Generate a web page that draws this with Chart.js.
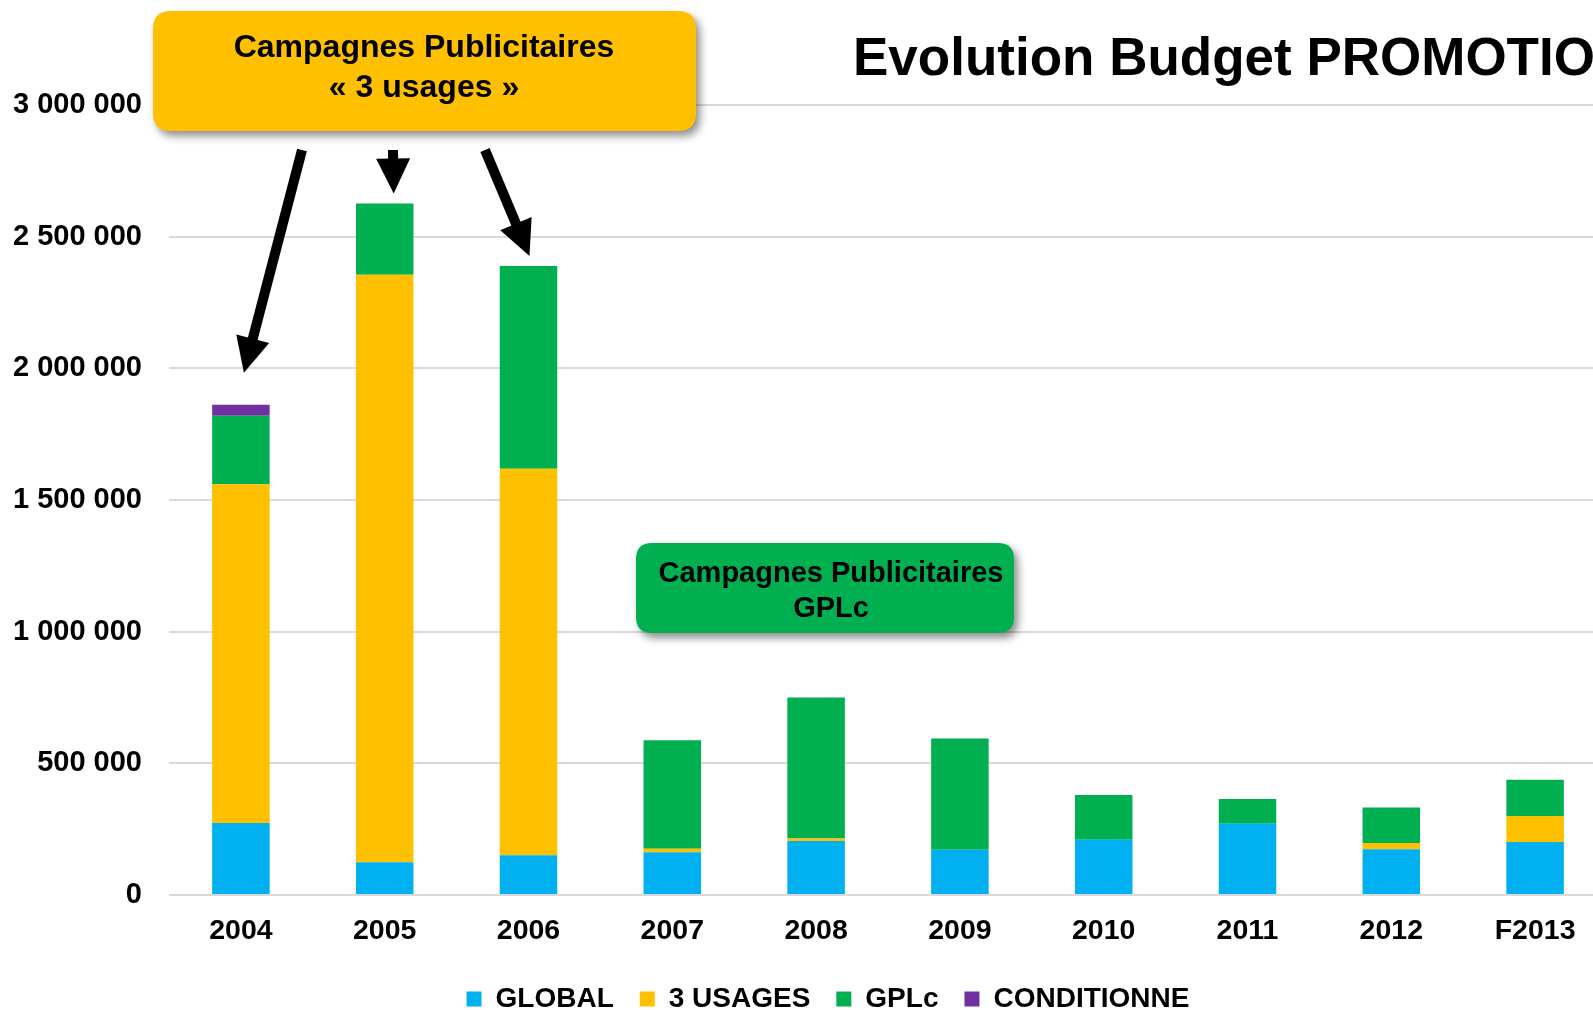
<!DOCTYPE html>
<html>
<head>
<meta charset="utf-8">
<script src="https://cdn.jsdelivr.net/npm/chart.js@4.4.0/dist/chart.umd.min.js"></script>
<style>
html, body { margin: 0; padding: 0; overflow: hidden; background: #fff; }
#wrap { position: relative; width: 1620px; height: 1023px; }
</style>
</head>
<body>
<div id="wrap"><canvas id="budget-chart"></canvas></div>
<script>
// categories and series
var years = ['2004', '2005', '2006', '2007', '2008', '2009', '2010', '2011', '2012', 'F2013'];
var global = [273000, 124000, 151000, 162000, 205000, 172000, 210000, 271000, 174000, 201000];
var usages3 = [1287000, 2231000, 1468000, 14000, 10000, 0, 0, 0, 23000, 99000];
var gplc = [260000, 271000, 770000, 412000, 535000, 422000, 170000, 94000, 135000, 138000];
var conditionne = [42000, 0, 0, 0, 0, 0, 0, 0, 0, 0];

var yTicks = [0, 500000, 1000000, 1500000, 2000000, 2500000, 3000000];

var titleText = 'Evolution Budget PROMOTION';
var noteUsages = ['Campagnes Publicitaires', '« 3 usages »'];
var noteGplc = ['Campagnes Publicitaires', 'GPLc'];
// arrows from the yellow note to these bars
var arrowBars = [0, 1, 2];

var FONT = "'Liberation Sans', Arial, sans-serif";
Chart.defaults.font.family = FONT;

function spaced(v) {
    return String(v).replace(/\B(?=(\d{3})+(?!\d))/g, ' ');
}

function roundBox(ctx, x, y, w, h, r, color) {
    ctx.save();
    ctx.shadowColor = 'rgba(0,0,0,0.45)';
    ctx.shadowBlur = 8;
    ctx.shadowOffsetX = 4;
    ctx.shadowOffsetY = 5;
    ctx.fillStyle = color;
    ctx.beginPath();
    ctx.moveTo(x + r, y);
    ctx.lineTo(x + w - r, y);
    ctx.quadraticCurveTo(x + w, y, x + w, y + r);
    ctx.lineTo(x + w, y + h - r);
    ctx.quadraticCurveTo(x + w, y + h, x + w - r, y + h);
    ctx.lineTo(x + r, y + h);
    ctx.quadraticCurveTo(x, y + h, x, y + h - r);
    ctx.lineTo(x, y + r);
    ctx.quadraticCurveTo(x, y, x + r, y);
    ctx.closePath();
    ctx.fill();
    ctx.restore();
}

function arrow(ctx, x1, y1, x2, y2) {
    var ang = Math.atan2(y2 - y1, x2 - x1);
    var head = 35, half = 17;
    var bx = x2 - head * Math.cos(ang), by = y2 - head * Math.sin(ang);
    ctx.save();
    ctx.strokeStyle = '#000';
    ctx.fillStyle = '#000';
    ctx.lineWidth = 10;
    ctx.beginPath();
    ctx.moveTo(x1, y1);
    ctx.lineTo(bx + 2 * Math.cos(ang), by + 2 * Math.sin(ang));
    ctx.stroke();
    ctx.beginPath();
    ctx.moveTo(x2, y2);
    ctx.lineTo(bx + half * Math.sin(ang), by - half * Math.cos(ang));
    ctx.lineTo(bx - half * Math.sin(ang), by + half * Math.cos(ang));
    ctx.closePath();
    ctx.fill();
    ctx.restore();
}

function noteText(ctx, lines, x, y1, y2, size) {
    ctx.save();
    ctx.fillStyle = '#000';
    ctx.textAlign = 'center';
    ctx.textBaseline = 'alphabetic';
    ctx.font = 'bold ' + size + 'px ' + FONT;
    ctx.fillText(lines[0], x, y1);
    ctx.fillText(lines[1], x, y2);
    ctx.restore();
}

var decorations = {
    id: 'decorations',
    afterLayout: function(chart) {
        // centre the legend the way the original sits under the plot
        if (chart.legend) chart.legend.left = 49;
    },
    afterDraw: function(chart) {
        var ctx = chart.ctx;
        var xs = chart.scales.x, ys = chart.scales.y;

        // title, runs past the right edge like the original
        ctx.save();
        ctx.fillStyle = '#000';
        ctx.font = 'bold 53px ' + FONT;
        ctx.textAlign = 'left';
        ctx.textBaseline = 'alphabetic';
        ctx.fillText(titleText, 853, 75);
        ctx.restore();

        // yellow note + arrows
        roundBox(ctx, 153, 11, 543, 120, 18, '#FFC000');
        noteText(ctx, noteUsages, 424, 57, 97, 32);

        var starts = [[302, 150], [393, 150], [485, 150]];
        var tipOff = [[3, 32], [9, 10], [1, 10]];
        arrowBars.forEach(function(i, k) {
            var total = global[i] + usages3[i] + gplc[i] + conditionne[i];
            var tx = xs.getPixelForValue(i) + tipOff[k][0];
            var ty = ys.getPixelForValue(total) - tipOff[k][1];
            arrow(ctx, starts[k][0], starts[k][1], tx, ty);
        });

        // green note
        roundBox(ctx, 636, 543, 378, 90, 16, '#00B050');
        noteText(ctx, noteGplc, 831, 582, 617, 29);
    }
};

new Chart(document.getElementById('budget-chart'), {
    type: 'bar',
    data: {
        labels: years,
        datasets: [
            { label: 'GLOBAL', data: global, backgroundColor: '#00B0F0' },
            { label: '3 USAGES', data: usages3, backgroundColor: '#FFC000' },
            { label: 'GPLc', data: gplc, backgroundColor: '#00B050' },
            { label: 'CONDITIONNE', data: conditionne, backgroundColor: '#7030A0' }
        ]
    },
    options: {
        responsive: true,
        maintainAspectRatio: false,
        animation: false,
        datasets: { bar: { categoryPercentage: 1, barPercentage: 0.4, borderWidth: 0 } },
        layout: { padding: { left: 0, right: 13, top: 105, bottom: 0 } },
        scales: {
            x: {
                stacked: true,
                grid: { display: false, drawTicks: false },
                border: { display: false },
                afterFit: function(scale) { scale.height = 64; },
                ticks: { color: '#000', padding: 19, font: { size: 28.5, weight: 'bold' } }
            },
            y: {
                stacked: true,
                min: 0,
                max: 3000000,
                afterBuildTicks: function(scale) {
                    scale.ticks = yTicks.map(function(v) { return { value: v }; });
                },
                afterFit: function(scale) { scale.width = 169; },
                grid: { color: '#d9d9d9', lineWidth: 2, drawTicks: false },
                border: { display: false },
                ticks: {
                    color: '#000',
                    padding: 27,
                    font: { size: 29, weight: 'bold' },
                    callback: function(v) { return spaced(v); }
                }
            }
        },
        plugins: {
            title: { display: false },
            tooltip: { enabled: false },
            legend: {
                position: 'bottom',
                labels: {
                    color: '#000',
                    boxWidth: 15,
                    boxHeight: 15,
                    padding: 26,
                    font: { size: 28, weight: 'bold' }
                }
            }
        }
    },
    plugins: [decorations]
});
</script>
</body>
</html>
